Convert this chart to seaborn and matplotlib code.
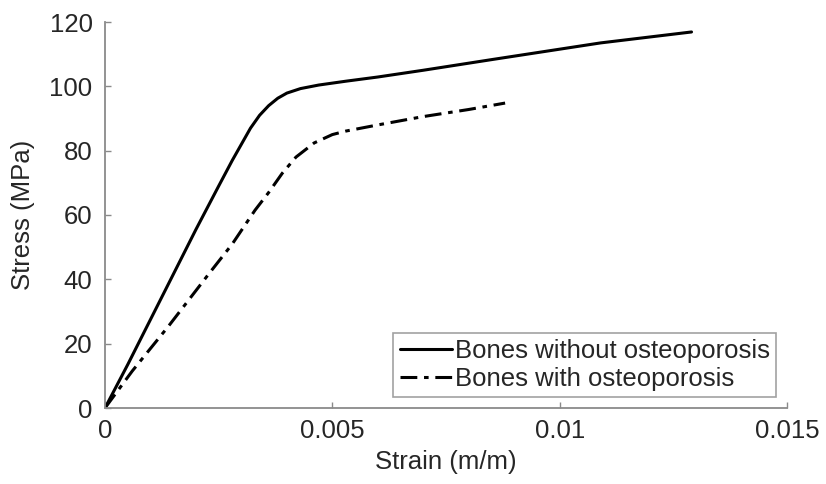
import numpy as np
import pandas as pd
import matplotlib
matplotlib.use("Agg")
import matplotlib.pyplot as plt
import seaborn as sns

# ---- data ----
strain_normal = [0, 0.0005, 0.001, 0.0015, 0.002, 0.0025, 0.0028, 0.003, 0.0032,
                 0.0034, 0.0036, 0.0038, 0.004, 0.0043, 0.0047, 0.0053, 0.006,
                 0.007, 0.0085, 0.0109, 0.0129]
stress_normal = [0, 13.5, 27.5, 41.5, 55.5, 69, 77, 82, 87, 91, 94, 96.3, 97.9,
                 99.3, 100.4, 101.6, 102.9, 105.0, 108.3, 113.5, 116.9]

strain_osteo = [0, 0.0006, 0.0014, 0.0023, 0.0028, 0.0033, 0.0036, 0.0039, 0.0042,
                0.0046, 0.005, 0.0053, 0.006, 0.007, 0.008, 0.0088]
stress_osteo = [0, 11.5, 25.5, 42, 51, 61.5, 67, 73, 78, 82.4, 85, 86.1, 88,
                90.6, 92.8, 94.8]

labels = ["Bones without osteoporosis", "Bones with osteoporosis"]
x_ticks = [0, 0.005, 0.01, 0.015]
x_ticklabels = ["0", "0.005", "0.01", "0.015"]
y_ticks = [0, 20, 40, 60, 80, 100, 120]

sns.set_theme(style="white")
plt.rcParams["font.family"] = ["Liberation Sans", "DejaVu Sans"]

FS = 18.5
TXT = "#262626"
GRAY = "#8a8a8a"

fig = plt.figure(figsize=(8.26, 4.84), dpi=100)
ax = fig.add_axes([105 / 826, 76 / 484, 682 / 826, 386 / 484])

sns.lineplot(x=strain_normal, y=stress_normal, ax=ax, color="black",
             linewidth=2.2, sort=False, label=labels[0])
sns.lineplot(x=strain_osteo, y=stress_osteo, ax=ax, color="black",
             linewidth=2.2, sort=False, label=labels[1])
ax.lines[1].set_linestyle((0, (5.5, 2.2, 1.5, 2.2)))

ax.set_xlim(0, 0.015)
ax.set_ylim(0, 120)
ax.set_xticks(x_ticks)
ax.set_xticklabels(x_ticklabels)
ax.set_yticks(y_ticks)

for s in ["top", "right"]:
    ax.spines[s].set_visible(False)
for s in ["left", "bottom"]:
    ax.spines[s].set_color(GRAY)
    ax.spines[s].set_linewidth(1.3)

ax.tick_params(axis="both", direction="in", length=4, width=1, color=GRAY,
               labelsize=FS, labelcolor=TXT)
ax.tick_params(axis="x", pad=8, bottom=True)
ax.tick_params(axis="y", pad=9, left=True)

ax.set_xlabel("Strain (m/m)", fontsize=FS, color=TXT, labelpad=5)
ax.set_ylabel("Stress (MPa)", fontsize=FS, color=TXT, labelpad=10)

leg = ax.legend(loc="lower right", bbox_to_anchor=(1.0, 0.0), fontsize=FS,
                frameon=True, fancybox=False, edgecolor=GRAY,
                handlelength=2.05, handletextpad=0.1, borderpad=0.25,
                labelspacing=0.15, borderaxespad=0.42)
leg.get_frame().set_linewidth(1.2)
for t in leg.get_texts():
    t.set_color(TXT)

fig.savefig("out.png", dpi=100, facecolor="white")
